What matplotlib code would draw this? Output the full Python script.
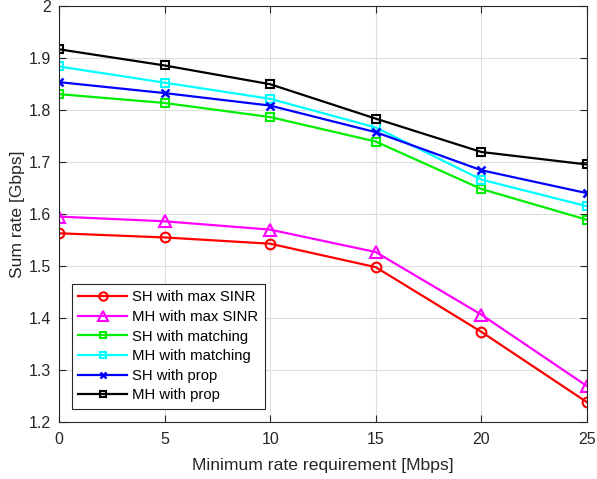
import matplotlib
matplotlib.use('Agg')
import matplotlib.pyplot as plt

plt.rcParams['font.family'] = ['Liberation Sans', 'DejaVu Sans']

rateReq = [0, 5, 10, 15, 20, 25]

shMaxSinr = [1.563, 1.555, 1.543, 1.498, 1.374, 1.239]
mhMaxSinr = [1.595, 1.586, 1.570, 1.527, 1.407, 1.270]
shMatching = [1.830, 1.813, 1.786, 1.739, 1.648, 1.589]
mhMatching = [1.883, 1.852, 1.821, 1.766, 1.666, 1.615]
shProp = [1.853, 1.832, 1.808, 1.757, 1.684, 1.640]
mhProp = [1.916, 1.885, 1.849, 1.783, 1.719, 1.695]

labels = ['SH with max SINR', 'MH with max SINR', 'SH with matching',
          'MH with matching', 'SH with prop', 'MH with prop']

fig = plt.figure(figsize=(5.97, 4.79), dpi=100)
ax = fig.add_axes([0.0988, 0.118, 0.8842, 0.8705])

ax.plot(rateReq, shMaxSinr, color='red', marker='o', ms=7, mfc='none', mew=1.5, lw=1.6, label=labels[0])
ax.plot(rateReq, mhMaxSinr, color='magenta', marker='^', ms=8, mfc='none', mew=1.5, lw=1.6, label=labels[1])
ax.plot(rateReq, shMatching, color='#00ee00', marker='s', ms=6, mfc='none', mew=1.5, lw=1.6, label=labels[2])
ax.plot(rateReq, mhMatching, color='cyan', marker='s', ms=6, mfc='none', mew=1.5, lw=1.6, label=labels[3])
ax.plot(rateReq, shProp, color='blue', marker='x', ms=6, mew=1.8, lw=1.6, label=labels[4])
ax.plot(rateReq, mhProp, color='black', marker='s', ms=6, mfc='none', mew=1.5, lw=1.6, label=labels[5])

ax.set_xlim(0, 25)
ax.set_ylim(1.2, 2.0)
ax.set_xticks(rateReq)
ax.set_yticks([1.2, 1.3, 1.4, 1.5, 1.6, 1.7, 1.8, 1.9, 2.0])
ax.set_yticklabels(['1.2', '1.3', '1.4', '1.5', '1.6', '1.7', '1.8', '1.9', '2'])
ax.grid(True, color='#dddddd', lw=0.8)
ax.tick_params(direction='in', top=True, right=True, labelsize=11.5, colors='#262626', length=5)
ax.tick_params(axis='x', pad=7)
ax.tick_params(axis='y', pad=6)
for s in ax.spines.values():
    s.set_color('#262626')
    s.set_linewidth(0.8)

ax.set_xlabel('Minimum rate requirement [Mbps]', fontsize=12.6, color='#262626', labelpad=8)
ax.set_ylabel('Sum rate [Gbps]', fontsize=12.6, color='#262626', labelpad=2)

leg = ax.legend(loc='lower left', bbox_to_anchor=(0.024, 0.032), fontsize=10.7, fancybox=False,
                edgecolor='#262626', framealpha=1, handlelength=3.3, labelspacing=0.38,
                borderpad=0.45, handletextpad=0.3, borderaxespad=0)
leg.get_frame().set_linewidth(0.8)
for h, ms in zip(leg.legend_handles, [6, 7, 5, 5, 5, 5]):
    h.set_markersize(ms)

fig.savefig('out.png', dpi=100)
